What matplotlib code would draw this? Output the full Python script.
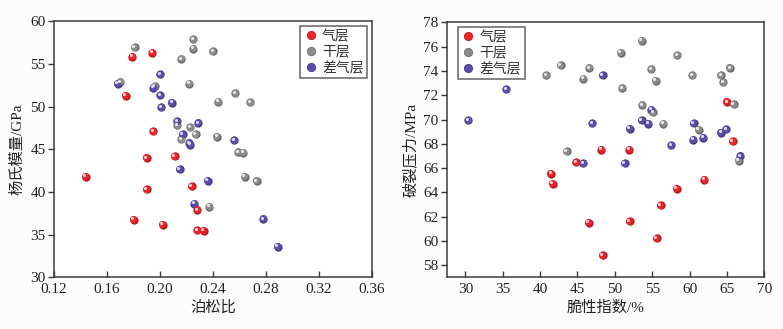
import numpy as np
import matplotlib
matplotlib.use("Agg")
import matplotlib.pyplot as plt
import matplotlib.transforms as mtransforms
from matplotlib.colors import to_rgb
from matplotlib.lines import Line2D

# ---- Poisson's ratio vs Young's modulus ----
poisson_gas = [0.144, 0.179, 0.194, 0.174, 0.195, 0.190, 0.211, 0.190, 0.180, 0.202,
               0.224, 0.228, 0.228, 0.233]
young_gas = [41.8, 55.85, 56.35, 51.3, 47.1, 44.0, 44.2, 40.35, 36.75, 36.15,
             40.65, 37.9, 35.55, 35.45]

poisson_dry = [0.181, 0.170, 0.196, 0.216, 0.225, 0.225, 0.240, 0.222, 0.257, 0.244,
               0.268, 0.213, 0.223, 0.227, 0.216, 0.243, 0.259, 0.263, 0.264, 0.273,
               0.237]
young_dry = [56.95, 52.9, 52.4, 55.6, 57.9, 56.8, 56.5, 52.7, 51.55, 50.6,
             50.5, 47.8, 47.6, 46.8, 46.2, 46.5, 44.7, 44.6, 41.8, 41.3,
             38.3]

poisson_poor = [0.168, 0.195, 0.200, 0.200, 0.201, 0.209, 0.213, 0.229, 0.217, 0.222,
                0.223, 0.256, 0.215, 0.236, 0.226, 0.278, 0.289]
young_poor = [52.7, 52.25, 53.8, 51.35, 49.95, 50.45, 48.3, 48.1, 46.75, 45.75,
              45.55, 46.05, 42.65, 41.35, 38.65, 36.85, 33.6]

# ---- Brittleness index vs fracture pressure ----
brittle_gas = [41.45, 41.7, 44.85, 46.5, 48.2, 48.35, 51.9, 52.0, 55.6, 56.15,
               58.3, 61.95, 65.0, 65.75]
pressure_gas = [65.55, 64.7, 66.5, 61.5, 67.5, 58.8, 67.5, 61.6, 60.2, 62.95,
                64.3, 65.05, 71.45, 68.2]

brittle_dry = [40.8, 42.75, 45.75, 46.6, 43.55, 50.8, 53.6, 58.35, 54.85, 55.45,
               51.0, 60.35, 64.2, 65.4, 64.5, 65.9, 53.65, 55.1, 56.45, 61.2,
               66.55]
pressure_dry = [73.65, 74.45, 73.35, 74.25, 67.4, 75.5, 76.5, 75.3, 74.15, 73.2,
                72.6, 73.65, 73.65, 74.25, 73.05, 71.25, 71.2, 70.6, 69.65, 69.15,
                66.6]

brittle_poor = [30.4, 35.5, 45.75, 46.95, 48.35, 52.0, 51.3, 53.6, 54.5, 54.85,
                57.55, 60.55, 60.5, 61.85, 64.2, 64.9, 66.75]
pressure_poor = [69.95, 72.5, 66.4, 69.7, 73.65, 69.25, 66.4, 69.95, 69.65, 70.8,
                 67.9, 69.7, 68.35, 68.5, 68.9, 69.2, 67.0]

series_names = ["气层", "干层", "差气层"]
series_colors = ["#ec2329", "#8c8c8c", "#5d4dab"]

left_xticks = [0.12, 0.16, 0.20, 0.24, 0.28, 0.32, 0.36]
left_yticks = [30, 35, 40, 45, 50, 55, 60]
right_xticks = [30, 35, 40, 45, 50, 55, 60, 65, 70]
right_yticks = [58, 60, 62, 64, 66, 68, 70, 72, 74, 76, 78]

plt.rcParams["font.family"] = ["Liberation Serif", "Noto Sans CJK SC"]

fig = plt.figure(figsize=(7.83, 3.29), dpi=100)
fig.patch.set_facecolor("#fcfcfc")

ax1 = fig.add_axes([0.069, 0.157, 0.406, 0.778])
ax2 = fig.add_axes([0.5705, 0.157, 0.4056, 0.775])


def shade(color, f):
    r, g, b = to_rgb(color)
    if f < 0:
        return (r * (1 + f), g * (1 + f), b * (1 + f))
    return (r + (1 - r) * f, g + (1 - g) * f, b + (1 - b) * f)


def sphere_scatter(ax, x, y, color):
    """Draw shaded ball markers: soft rim, body, and a small specular spot."""
    ax.scatter(x, y, s=36, color=shade(color, -0.22), lw=0, zorder=3)
    off1 = mtransforms.ScaledTranslation(-0.35 / 72, 0.35 / 72, fig.dpi_scale_trans)
    ax.scatter(x, y, s=26, color=color, lw=0, zorder=4,
               transform=ax.transData + off1)
    off2 = mtransforms.ScaledTranslation(-1.0 / 72, 1.0 / 72, fig.dpi_scale_trans)
    ax.scatter(x, y, s=5, color=shade(color, 0.8), lw=0, zorder=5,
               transform=ax.transData + off2)


def style_axes(ax):
    ax.set_facecolor("white")
    for sp in ax.spines.values():
        sp.set_color("#3c3c3c")
        sp.set_linewidth(1.1)
    ax.tick_params(axis="x", direction="in", length=4, width=1, colors="#3c3c3c",
                   labelsize=11, pad=4, labelcolor="#222222")
    ax.tick_params(axis="y", direction="out", length=4, width=1, colors="#3c3c3c",
                   labelsize=11, pad=2, labelcolor="#222222")


left_data = [(poisson_gas, young_gas), (poisson_dry, young_dry), (poisson_poor, young_poor)]
right_data = [(brittle_gas, pressure_gas), (brittle_dry, pressure_dry), (brittle_poor, pressure_poor)]

for (xs, ys), c in zip(left_data, series_colors):
    sphere_scatter(ax1, xs, ys, c)
for (xs, ys), c in zip(right_data, series_colors):
    sphere_scatter(ax2, xs, ys, c)

ax1.set_xlim(0.12, 0.36)
ax1.set_ylim(30, 60)
ax1.set_xticks(left_xticks)
ax1.set_xticklabels([f"{v:.2f}" for v in left_xticks])
ax1.set_yticks(left_yticks)
ax1.set_xlabel("泊松比", fontsize=11, labelpad=3, color="#222222")
ax1.set_ylabel("杨氏模量/GPa", fontsize=11, labelpad=4, color="#222222")

ax2.set_xlim(27.5, 70)
ax2.set_ylim(57, 78)
ax2.set_xticks(right_xticks)
ax2.set_yticks(right_yticks)
ax2.set_xlabel("脆性指数/%", fontsize=11, labelpad=3, color="#222222")
ax2.set_ylabel("破裂压力/MPa", fontsize=11, labelpad=4, color="#222222")

for ax in (ax1, ax2):
    style_axes(ax)

handles = [Line2D([], [], ls="none", marker="o", markersize=6,
                  markerfacecolor=c, markeredgecolor=shade(c, -0.2),
                  markeredgewidth=0.6) for c in series_colors]

legend_kw = dict(fontsize=10, frameon=True, fancybox=False, handletextpad=0.3,
                 borderpad=0.25, labelspacing=0.2, handlelength=1.0,
                 borderaxespad=0.35)
lg1 = ax1.legend(handles, series_names, loc="upper right", **legend_kw)
lg2 = ax2.legend(handles, series_names, loc="upper left",
                 bbox_to_anchor=(0.02, 1.0), **legend_kw)
for lg in (lg1, lg2):
    lg.get_frame().set_edgecolor("#3c3c3c")
    lg.get_frame().set_linewidth(1.1)
    for t in lg.get_texts():
        t.set_color("#333333")

fig.savefig("out.png", dpi=100, facecolor=fig.get_facecolor())
